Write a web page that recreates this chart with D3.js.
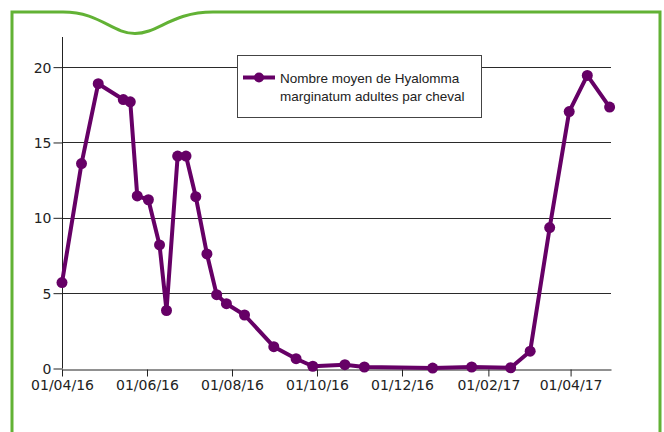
<!DOCTYPE html>
<html>
<head>
<meta charset="utf-8">
<style>
  body { margin: 0; background: white; }
  svg { display: block; }
</style>
</head>
<body>
<div id="container"></div>
<script src="https://cdn.jsdelivr.net/npm/d3@7"></script>
<script>

// sampling dates and mean count of adult Hyalomma marginatum per horse
const dates = ["2016-04-01", "2016-04-15", "2016-04-27", "2016-05-15", "2016-05-20",
               "2016-05-25", "2016-06-02", "2016-06-10", "2016-06-15", "2016-06-23",
               "2016-06-29", "2016-07-06", "2016-07-14", "2016-07-21", "2016-07-28",
               "2016-08-10", "2016-08-31", "2016-09-16", "2016-09-28", "2016-10-21",
               "2016-11-04", "2016-12-23", "2017-01-20", "2017-02-17", "2017-03-03",
               "2017-03-17", "2017-03-31", "2017-04-13", "2017-04-29"];
const values = [5.7, 13.6, 18.9, 17.85, 17.7,
                11.45, 11.2, 8.2, 3.85, 14.1,
                14.1, 11.4, 7.6, 4.9, 4.3,
                3.55, 1.45, 0.65, 0.15, 0.25,
                0.1, 0.03, 0.1, 0.05, 1.15,
                9.35, 17.05, 19.45, 17.35];
const xTicks = ["2016-04-01", "2016-06-01", "2016-08-01", "2016-10-01", "2016-12-01", "2017-02-01", "2017-04-01"];
const yTicks = [0, 5, 10, 15, 20];
const legendLines = ["Nombre moyen de Hyalomma", "marginatum adultes par cheval"];

const W = 664, H = 432;
const parse = d3.utcParse("%Y-%m-%d");
const PURPLE = "#660066";

const data = dates.map((d, i) => ({ dt: parse(d), v: values[i] }));

const x = d3.scaleUtc().domain([parse("2016-04-01"), parse("2017-04-30")]).range([62, 611]);
const y = d3.scaleLinear().domain([0, 22]).range([368.5, 37]);

const svg = d3.select("#container").append("svg")
    .attr("width", W)
    .attr("height", H);

// green frame with the little wave at the top
svg.append("path")
    .attr("d", "M12,440 L12,12 L63,12 C100,12 112,33.5 135,33.5 C158,33.5 172,12 213,12 L660,12 L660,440")
    .attr("fill", "none")
    .attr("stroke", "#62b235")
    .attr("stroke-width", 3);

// horizontal grid lines
svg.append("g").selectAll("line").data(yTicks.filter(d => d > 0)).enter().append("line")
    .attr("x1", x.range()[0]).attr("x2", x.range()[1])
    .attr("y1", d => Math.round(y(d)) + 0.5).attr("y2", d => Math.round(y(d)) + 0.5)
    .attr("stroke", "#2a2a2a").attr("stroke-width", 1);

// y axis
const yAxis = svg.append("g")
    .attr("transform", `translate(${x.range()[0] + 0.5},0)`)
    .call(d3.axisLeft(y).tickValues(yTicks).tickSize(9).tickPadding(2).tickSizeOuter(0));
yAxis.select(".domain").attr("d", `M0,${y(22)}V${y(0)}`);

// x axis
const xAxis = svg.append("g")
    .attr("transform", `translate(0,${Math.round(y(0)) + 0.5})`)
    .call(d3.axisBottom(x).tickValues(xTicks.map(parse)).tickFormat(d3.utcFormat("%d/%m/%y"))
          .tickSize(7).tickPadding(4).tickSizeOuter(0));

svg.selectAll(".tick text")
    .attr("font-family", "DejaVu Sans, Verdana, sans-serif")
    .attr("font-size", 14)
    .attr("fill", "#222");
yAxis.selectAll(".tick text").attr("dy", "0.36em");
svg.selectAll(".domain, .tick line").attr("stroke", "#222");

// series
const line = d3.line().x(d => x(d.dt)).y(d => y(d.v));
svg.append("path")
    .datum(data)
    .attr("d", line)
    .attr("fill", "none")
    .attr("stroke", PURPLE)
    .attr("stroke-width", 4)
    .attr("stroke-linejoin", "round");

svg.append("g").selectAll("circle").data(data).enter().append("circle")
    .attr("cx", d => x(d.dt))
    .attr("cy", d => y(d.v))
    .attr("r", 5.5)
    .attr("fill", PURPLE);

// legend
const lg = svg.append("g").attr("transform", "translate(237,55)");
lg.append("rect")
    .attr("x", 0.5).attr("y", 0.5)
    .attr("width", 244).attr("height", 62)
    .attr("fill", "white")
    .attr("stroke", "#444");
lg.append("line")
    .attr("x1", 6).attr("x2", 38).attr("y1", 22.5).attr("y2", 22.5)
    .attr("stroke", PURPLE).attr("stroke-width", 4);
lg.append("circle").attr("cx", 22).attr("cy", 22.5).attr("r", 5).attr("fill", PURPLE);
lg.selectAll("text").data(legendLines).enter().append("text")
    .attr("x", 43)
    .attr("y", (d, i) => 28 + i * 18)
    .attr("font-family", "Liberation Sans, Arial, sans-serif")
    .attr("font-size", 13.5)
    .attr("fill", "#222")
    .text(d => d);

</script>
</body>
</html>
